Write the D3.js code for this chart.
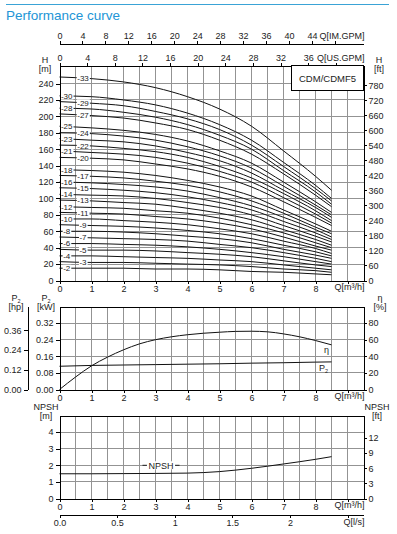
<!DOCTYPE html>
<html>
<head>
<meta charset="utf-8">
<script src="https://cdn.jsdelivr.net/npm/d3@7"></script>
<style>
body { margin: 0; background: #fff; }
svg { display: block; font-family: "Liberation Sans", Arial, sans-serif; }
.grid line { stroke: #939393; stroke-width: 1; shape-rendering: crispEdges; }
.axis { font-family: "Liberation Sans", Arial, sans-serif; }
.axis text { font-size: 9px; fill: #222; }
.axis path, .axis line { stroke: #000; shape-rendering: crispEdges; }
.curve { fill: none; stroke: #111; stroke-width: 1; }
.lbl { font-size: 9px; fill: #222; }
</style>
</head>
<body>
<svg id="chart" width="397" height="534"></svg>
<script>
const svg = d3.select("#chart");

// flow points the curves were read at [m3/h]
const flow = [0, 1, 2, 3, 4, 5, 6, 7, 8, 8.5];

// pump stages shown and their head curves [m]
const stages = [33, 30, 29, 28, 27, 25, 24, 23, 22, 21, 20, 18, 17, 16, 15, 14, 13, 12, 11, 10, 9, 8, 7, 6, 5, 4, 3, 2];
const headCurves = [
    [248, 246, 242, 235, 224, 209, 188, 158, 127, 110],
    [225, 224, 220, 214, 204, 190, 171, 144, 116, 100],
    [218, 216, 213, 206, 197, 184, 165, 139, 112, 97],
    [210, 209, 205, 199, 190, 177, 160, 134, 108, 93],
    [203, 201, 198, 192, 184, 171, 154, 130, 104, 90],
    [188, 186, 183, 178, 170, 158, 143, 120, 96, 83],
    [180, 179, 176, 171, 163, 152, 137, 115, 92, 80],
    [173, 171, 169, 164, 156, 146, 131, 110, 89, 77],
    [165, 164, 161, 157, 150, 139, 125, 106, 85, 73],
    [158, 156, 154, 150, 143, 133, 120, 101, 81, 70],
    [150, 149, 147, 142, 136, 127, 114, 96, 77, 67],
    [135, 134, 132, 128, 122, 114, 103, 86, 69, 60],
    [128, 127, 125, 121, 116, 108, 97, 82, 65, 57],
    [120, 119, 117, 114, 109, 101, 91, 77, 62, 53],
    [113, 112, 110, 107, 102, 95, 86, 72, 58, 50],
    [105, 104, 103, 100, 95, 89, 80, 67, 54, 47],
    [98, 97, 95, 93, 88, 82, 74, 62, 50, 43],
    [90, 89, 88, 85, 82, 76, 68, 58, 46, 40],
    [83, 82, 81, 78, 75, 70, 63, 53, 42, 37],
    [75, 75, 73, 71, 68, 63, 57, 48, 39, 33],
    [68, 67, 66, 64, 61, 57, 51, 43, 35, 30],
    [60, 60, 59, 57, 54, 51, 46, 38, 31, 27],
    [53, 52, 51, 50, 48, 44, 40, 34, 27, 23],
    [45, 45, 44, 43, 41, 38, 34, 29, 23, 20],
    [38, 37, 37, 36, 34, 32, 29, 24, 19, 17],
    [30, 30, 29, 28, 27, 25, 23, 19, 15, 13],
    [23, 22, 22, 21, 20, 19, 17, 14, 12, 10],
    [15, 15, 15, 14, 14, 13, 11, 10, 8, 7]
];
// stage labels placed in the left column (others go in the right column)
const leftLabels = [30, 28, 25, 23, 21, 18, 16, 14, 12, 10, 8, 6, 4, 2];

// efficiency, power and NPSH curves
const etaFlow = [0, 0.5, 1, 1.5, 2, 2.5, 3, 3.5, 4, 4.5, 5, 5.5, 6, 6.5, 7, 7.5, 8, 8.5];
const etaValues = [0, 15, 28.5, 39, 47.8, 55, 60, 63.5, 66, 67.8, 69, 70, 70.2, 69.5, 67, 63.5, 59, 53.8];
const powerValues = [0.112, 0.116, 0.118, 0.12, 0.122, 0.124, 0.127, 0.129, 0.132, 0.133];
const npshValues = [1.49, 1.49, 1.5, 1.51, 1.53, 1.62, 1.82, 2.08, 2.36, 2.52];

// tick values
const qTicks = [0, 1, 2, 3, 4, 5, 6, 7, 8, 9];
const imTicks = [0, 4, 8, 12, 16, 20, 24, 28, 32, 36, 40, 44, 48];
const usTicks = [0, 4, 8, 12, 16, 20, 24, 28, 32, 36, 40];
const lsTicks = [0, 0.5, 1, 1.5, 2, 2.5];
const lsLabels = ["0.0", "0.5", "1", "1.5", "2", ""];
const hTicks = d3.range(0, 241, 20);
const ftTicks = d3.range(0, 781, 60);
const kwTicks = [0, 0.08, 0.16, 0.24, 0.32];
const hpTicks = [0, 0.12, 0.24, 0.36];
const etaTicks = [0, 20, 40, 60, 80];
const npshTicks = [0, 1, 2, 3, 4];
const npshFtTicks = [0, 3, 6, 9, 12];

const x0 = 59.5, x1 = 363.5;
const x = d3.scaleLinear().domain([0, 9.5]).range([x0, x1]);
const xIm = d3.scaleLinear().domain([0, 53]).range([x0, x1]);
const xUs = d3.scaleLinear().domain([0, 44]).range([x0, x1]);
const xLs = d3.scaleLinear().domain([0, 9.5 / 3.6]).range([x0, x1]);

const yH = d3.scaleLinear().domain([0, 262]).range([280.5, 65.5]);
const yFt = d3.scaleLinear().domain([0, 262 * 3.2808]).range([280.5, 65.5]);
const yKw = d3.scaleLinear().domain([0, 0.4]).range([389.5, 306.5]);
const yHp = d3.scaleLinear().domain([0, 0.505]).range([389.5, 306.5]);
const yEta = d3.scaleLinear().domain([0, 100]).range([389.5, 306.5]);
const yN = d3.scaleLinear().domain([0, 5]).range([498.5, 415.5]);
const yNft = d3.scaleLinear().domain([0, 5 * 3.2808]).range([498.5, 415.5]);

// header
svg.append("line").attr("x1", 6).attr("x2", 389).attr("y1", 4.5).attr("y2", 4.5)
    .attr("stroke", "#3aa3d6").attr("stroke-width", 1.2);
svg.append("text").attr("x", 6).attr("y", 20).attr("font-size", 13.5).attr("fill", "#2295d6")
    .text("Performance curve");

function drawGrid(yScale, yValues) {
    const [yb, yt] = yScale.range();
    const g = svg.append("g").attr("class", "grid");
    g.selectAll(".v").data(d3.range(0.5, 9.5, 0.5)).join("line")
        .attr("x1", d => x(d)).attr("x2", d => x(d)).attr("y1", yt).attr("y2", yb);
    g.selectAll(".h").data(yValues).join("line")
        .attr("x1", x0).attr("x2", x1).attr("y1", d => yScale(d)).attr("y2", d => yScale(d));
}

function drawAxis(axis, tx, ty) {
    return svg.append("g").attr("class", "axis").attr("transform", `translate(${tx},${ty})`).call(axis);
}

function twoLine(cx, y, top, bottom, anchor) {
    const t = svg.append("text").attr("class", "lbl").attr("text-anchor", anchor || "middle");
    t.append("tspan").attr("x", cx).attr("y", y).text(top);
    t.append("tspan").attr("x", cx).attr("y", y + 9).text(bottom);
    return t;
}

function qLabel(y, text) {
    svg.append("text").attr("class", "lbl").attr("x", x1 + 1).attr("y", y).attr("text-anchor", "end").text(text);
}

const line = d3.line().curve(d3.curveMonotoneX);

// ---------- head chart ----------
drawGrid(yH, d3.range(20, 241, 20));

headCurves.forEach(h => {
    svg.append("path").attr("class", "curve")
        .attr("d", line(flow.map((q, i) => [x(q), yH(h[i])])));
});

stages.forEach((s, i) => {
    const h = headCurves[i];
    const px = leftLabels.includes(s) ? 66.7 : 83;
    const q = x.invert(px);
    const hy = yH(h[0] + (h[1] - h[0]) * q);
    const g = svg.append("g");
    const rect = g.append("rect").attr("fill", "#fff");
    const t = g.append("text").attr("x", px).attr("y", hy + 2.8).attr("text-anchor", "middle")
        .attr("font-size", 8).attr("fill", "#222").text("-" + s);
    const bb = t.node().getBBox();
    rect.attr("x", bb.x - 0.5).attr("y", hy - 3.5).attr("width", bb.width + 1).attr("height", 7);
});

drawAxis(d3.axisLeft(yH).tickValues(hTicks).tickSize(4).tickSizeOuter(0).tickPadding(2), x0, 0);
drawAxis(d3.axisRight(yFt).tickValues(ftTicks).tickSize(3).tickSizeOuter(0).tickPadding(2), x1, 0);
drawAxis(d3.axisBottom(x).tickValues(qTicks).tickSize(3).tickSizeOuter(0).tickPadding(2)
    .tickFormat(d => d === 9 ? "" : d), 0, 280.5);
drawAxis(d3.axisTop(xUs).tickValues(usTicks).tickSize(3).tickSizeOuter(0).tickPadding(2)
    .tickFormat(d => d === 40 ? "" : d), 0, 65.5);
drawAxis(d3.axisTop(xIm).tickValues(imTicks).tickSize(3).tickSizeOuter(0).tickPadding(2)
    .tickFormat(d => d === 48 ? "" : d), 0, 43.5);

qLabel(289.5, "Q[m³/h]");
qLabel(60.5, "Q[US.GPM]");
qLabel(38.5, "Q[IM.GPM]");
twoLine(45, 63, "H", "[m]");
twoLine(379, 63, "H", "[ft]");

svg.append("rect").attr("x", 291.5).attr("y", 65.5).attr("width", 72).attr("height", 25)
    .attr("fill", "#fff").attr("stroke", "#000").attr("shape-rendering", "crispEdges");
svg.append("text").attr("x", 327.5).attr("y", 81.5).attr("text-anchor", "middle")
    .attr("font-size", 9.5).attr("fill", "#222").text("CDM/CDMF5");

// ---------- power / efficiency chart ----------
drawGrid(yKw, [0.08, 0.16, 0.24, 0.32]);

svg.append("path").attr("class", "curve")
    .attr("d", line(etaFlow.map((q, i) => [x(q), yEta(etaValues[i])])));
svg.append("path").attr("class", "curve")
    .attr("d", line(flow.map((q, i) => [x(q), yKw(powerValues[i])])));

svg.append("text").attr("class", "lbl").attr("x", 324).attr("y", 353).text("η");
const p2 = svg.append("text").attr("class", "lbl").attr("x", 319).attr("y", 371);
p2.append("tspan").text("P");
p2.append("tspan").attr("font-size", 5.5).attr("dy", 2).text("2");

drawAxis(d3.axisLeft(yKw).tickValues(kwTicks).tickSize(4).tickSizeOuter(0).tickPadding(2)
    .tickFormat(d3.format(".2f")), x0, 0);
drawAxis(d3.axisLeft(yHp).tickValues(hpTicks).tickSize(4).tickSizeOuter(0).tickPadding(2)
    .tickFormat(d3.format(".2f")), 27.5, 0);
drawAxis(d3.axisRight(yEta).tickValues(etaTicks).tickSize(3).tickSizeOuter(0).tickPadding(2), x1, 0);
drawAxis(d3.axisTop(x).tickValues([]).tickSizeOuter(0), 0, 306.5);
drawAxis(d3.axisBottom(x).tickValues(qTicks).tickSize(3).tickSizeOuter(0).tickPadding(2)
    .tickFormat(d => d === 9 ? "" : d), 0, 389.5);
qLabel(398.5, "Q[m³/h]");

const p2hp = svg.append("text").attr("class", "lbl").attr("text-anchor", "middle");
p2hp.append("tspan").attr("x", 16).attr("y", 301).text("P");
p2hp.append("tspan").attr("font-size", 5.5).attr("dy", 1.5).text("2");
p2hp.append("tspan").attr("x", 16).attr("y", 310).text("[hp]");
const p2kw = svg.append("text").attr("class", "lbl").attr("text-anchor", "middle");
p2kw.append("tspan").attr("x", 46).attr("y", 301).text("P");
p2kw.append("tspan").attr("font-size", 5.5).attr("dy", 1.5).text("2");
p2kw.append("tspan").attr("x", 46).attr("y", 310).text("[kW]");
twoLine(380, 301, "η", "[%]");

// ---------- NPSH chart ----------
drawGrid(yN, [1, 2, 3, 4]);

svg.append("path").attr("class", "curve")
    .attr("d", line(flow.map((q, i) => [x(q), yN(npshValues[i])])));

const ng = svg.append("g");
const nRect = ng.append("rect").attr("fill", "#fff");
const nText = ng.append("text").attr("class", "lbl").attr("x", 161).attr("y", yN(2) + 3.2)
    .attr("text-anchor", "middle").text("NPSH");
const nb = nText.node().getBBox();
nRect.attr("x", nb.x - 2).attr("y", yN(2) - 4).attr("width", nb.width + 4).attr("height", 8);
ng.append("line").attr("x1", nb.x - 6).attr("x2", nb.x - 1.5).attr("y1", yN(2)).attr("y2", yN(2)).attr("stroke", "#222");
ng.append("line").attr("x1", nb.x + nb.width + 1.5).attr("x2", nb.x + nb.width + 6).attr("y1", yN(2)).attr("y2", yN(2)).attr("stroke", "#222");

drawAxis(d3.axisLeft(yN).tickValues(npshTicks).tickSize(4).tickSizeOuter(0).tickPadding(2)
    .tickFormat(d3.format("d")), x0, 0);
drawAxis(d3.axisRight(yNft).tickValues(npshFtTicks).tickSize(3).tickSizeOuter(0).tickPadding(2)
    .tickFormat(d3.format("d")), x1, 0);
drawAxis(d3.axisTop(x).tickValues([]).tickSizeOuter(0), 0, 415.5);
drawAxis(d3.axisBottom(x).tickValues(qTicks).tickSize(3).tickSizeOuter(0).tickPadding(2)
    .tickFormat(d => d === 9 ? "" : d), 0, 498.5);
qLabel(507.5, "Q[m³/h]");
drawAxis(d3.axisBottom(xLs).tickValues(lsTicks).tickSize(3).tickSizeOuter(0).tickPadding(2)
    .tickFormat((d, i) => lsLabels[i]), 0, 514.5);
qLabel(524.5, "Q[l/s]");

twoLine(46, 410, "NPSH", "[m]");
twoLine(377, 410, "NPSH", "[ft]");
</script>
</body>
</html>
